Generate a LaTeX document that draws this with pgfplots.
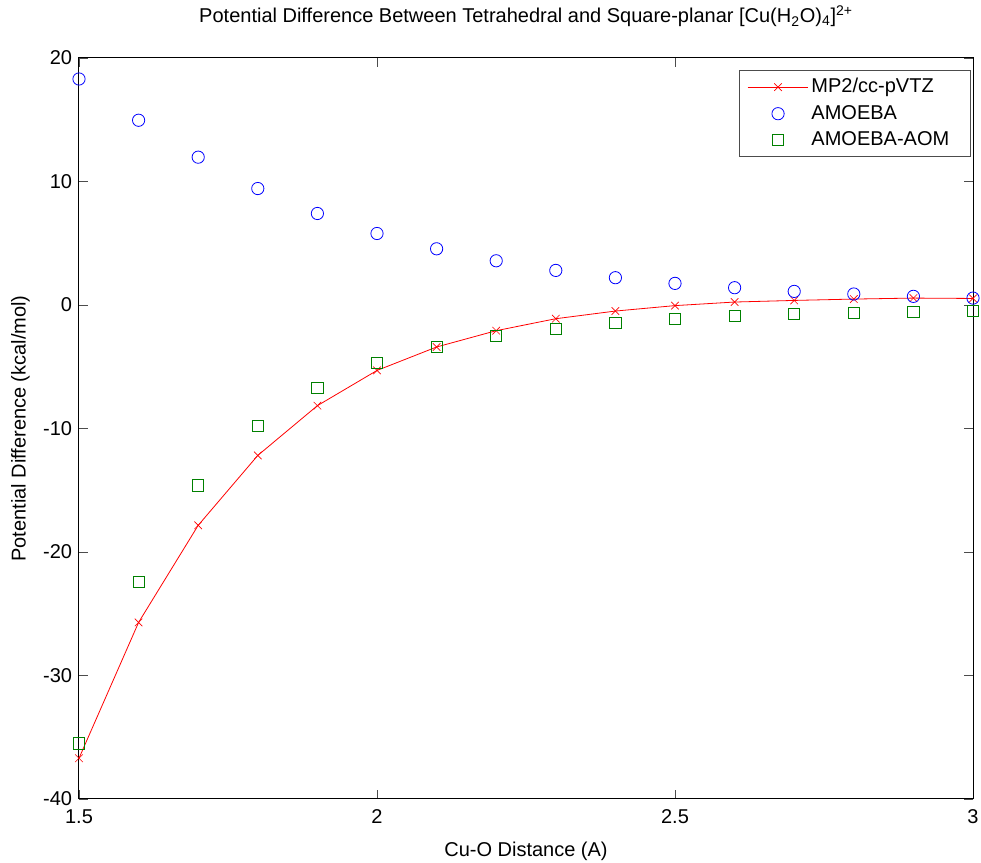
\documentclass[border=0pt]{standalone}
\usepackage{fontspec}
\setmainfont{Liberation Sans}
\usepackage{pgfplots}
\pgfplotsset{compat=1.18}
\definecolor{mgreen}{rgb}{0,0.5,0}
\begin{document}
\fontsize{15}{18}\selectfont
\begin{tikzpicture}
\useasboundingbox (-59.25pt,-48pt) rectangle (676.5pt,599.25pt);
\begin{axis}[
  name=ax,
  at={(0,0)}, anchor=south west,
  scale only axis,
  width=670.5pt, height=555.75pt,
  xmin=1.5, xmax=3, ymin=-40, ymax=20,
  xtick={1.5,2,2.5,3}, ytick={-40,-30,...,20},
  xticklabels={1.5,2,2.5,3},
  /pgf/number format/assume math mode=true,
  tick align=inside, major tick length=6.75pt,
  tick style={black!70, line width=0.6pt},
  axis line style={line width=0.75pt},
  ticklabel style={font=\fontsize{15}{18}\selectfont},
  xticklabel style={yshift=-3pt},
  title={Potential Difference Between Tetrahedral and Square-planar [Cu(H\textsubscript{2}O)\textsubscript{4}]\textsuperscript{2+}},
  title style={font=\fontsize{15}{18}\selectfont, anchor=center, at={(0.5,1)}, yshift=25pt},
  xlabel={Cu-O Distance (A)},
  ylabel={Potential Difference (kcal/mol)},
  xlabel style={font=\fontsize{15}{18}\selectfont, anchor=center, at={(0.5,0)}, yshift=-39pt},
  ylabel style={font=\fontsize{15}{18}\selectfont, anchor=center, at={(0,0.5)}, yshift=44pt},
  legend style={at={(1,1)}, anchor=north east, xshift=-1.5pt, yshift=-9pt,
    font=\fontsize{15}{18}\selectfont, draw=black!70, line width=0.6pt,
    row sep=3pt, inner xsep=6pt, inner ysep=4pt,
    /tikz/every even column/.append style={column sep=3pt}},
  legend cell align=left,
  legend image code/.code={
    \draw[#1, mark repeat=2, mark phase=2] plot coordinates {(0cm,0cm) (0.8cm,0cm) (1.6cm,0cm)};
  },
]
\addplot[red, line width=0.6pt, mark=x, mark size=4pt, mark options={line width=0.5pt}] coordinates {
(1.5,-36.7) (1.6,-25.7) (1.7,-17.84) (1.8,-12.18) (1.9,-8.15) (2.0,-5.3)
(2.1,-3.4) (2.2,-2.08) (2.3,-1.11) (2.4,-0.49) (2.5,-0.05) (2.6,0.24)
(2.7,0.37) (2.8,0.48) (2.9,0.56) (3.0,0.53)};
\addlegendentry{MP2/cc-pVTZ}
\addplot[blue, only marks, mark=o, mark size=4.6pt, mark options={line width=0.6pt}] coordinates {
(1.5,18.3) (1.6,14.96) (1.7,11.97) (1.8,9.43) (1.9,7.41) (2.0,5.79)
(2.1,4.55) (2.2,3.58) (2.3,2.8) (2.4,2.21) (2.5,1.75) (2.6,1.4)
(2.7,1.1) (2.8,0.89) (2.9,0.70) (3.0,0.56)};
\addlegendentry{AMOEBA}
\addplot[mgreen, only marks, mark=square, mark size=4.2pt, mark options={line width=0.6pt}] coordinates {
(1.5,-35.5) (1.6,-22.4) (1.7,-14.6) (1.8,-9.8) (1.9,-6.7) (2.0,-4.7)
(2.1,-3.4) (2.2,-2.48) (2.3,-1.92) (2.4,-1.46) (2.5,-1.13) (2.6,-0.89)
(2.7,-0.73) (2.8,-0.62) (2.9,-0.54) (3.0,-0.49)};
\addlegendentry{AMOEBA-AOM\hspace*{8pt}}
\end{axis}
\end{tikzpicture}
\end{document}
